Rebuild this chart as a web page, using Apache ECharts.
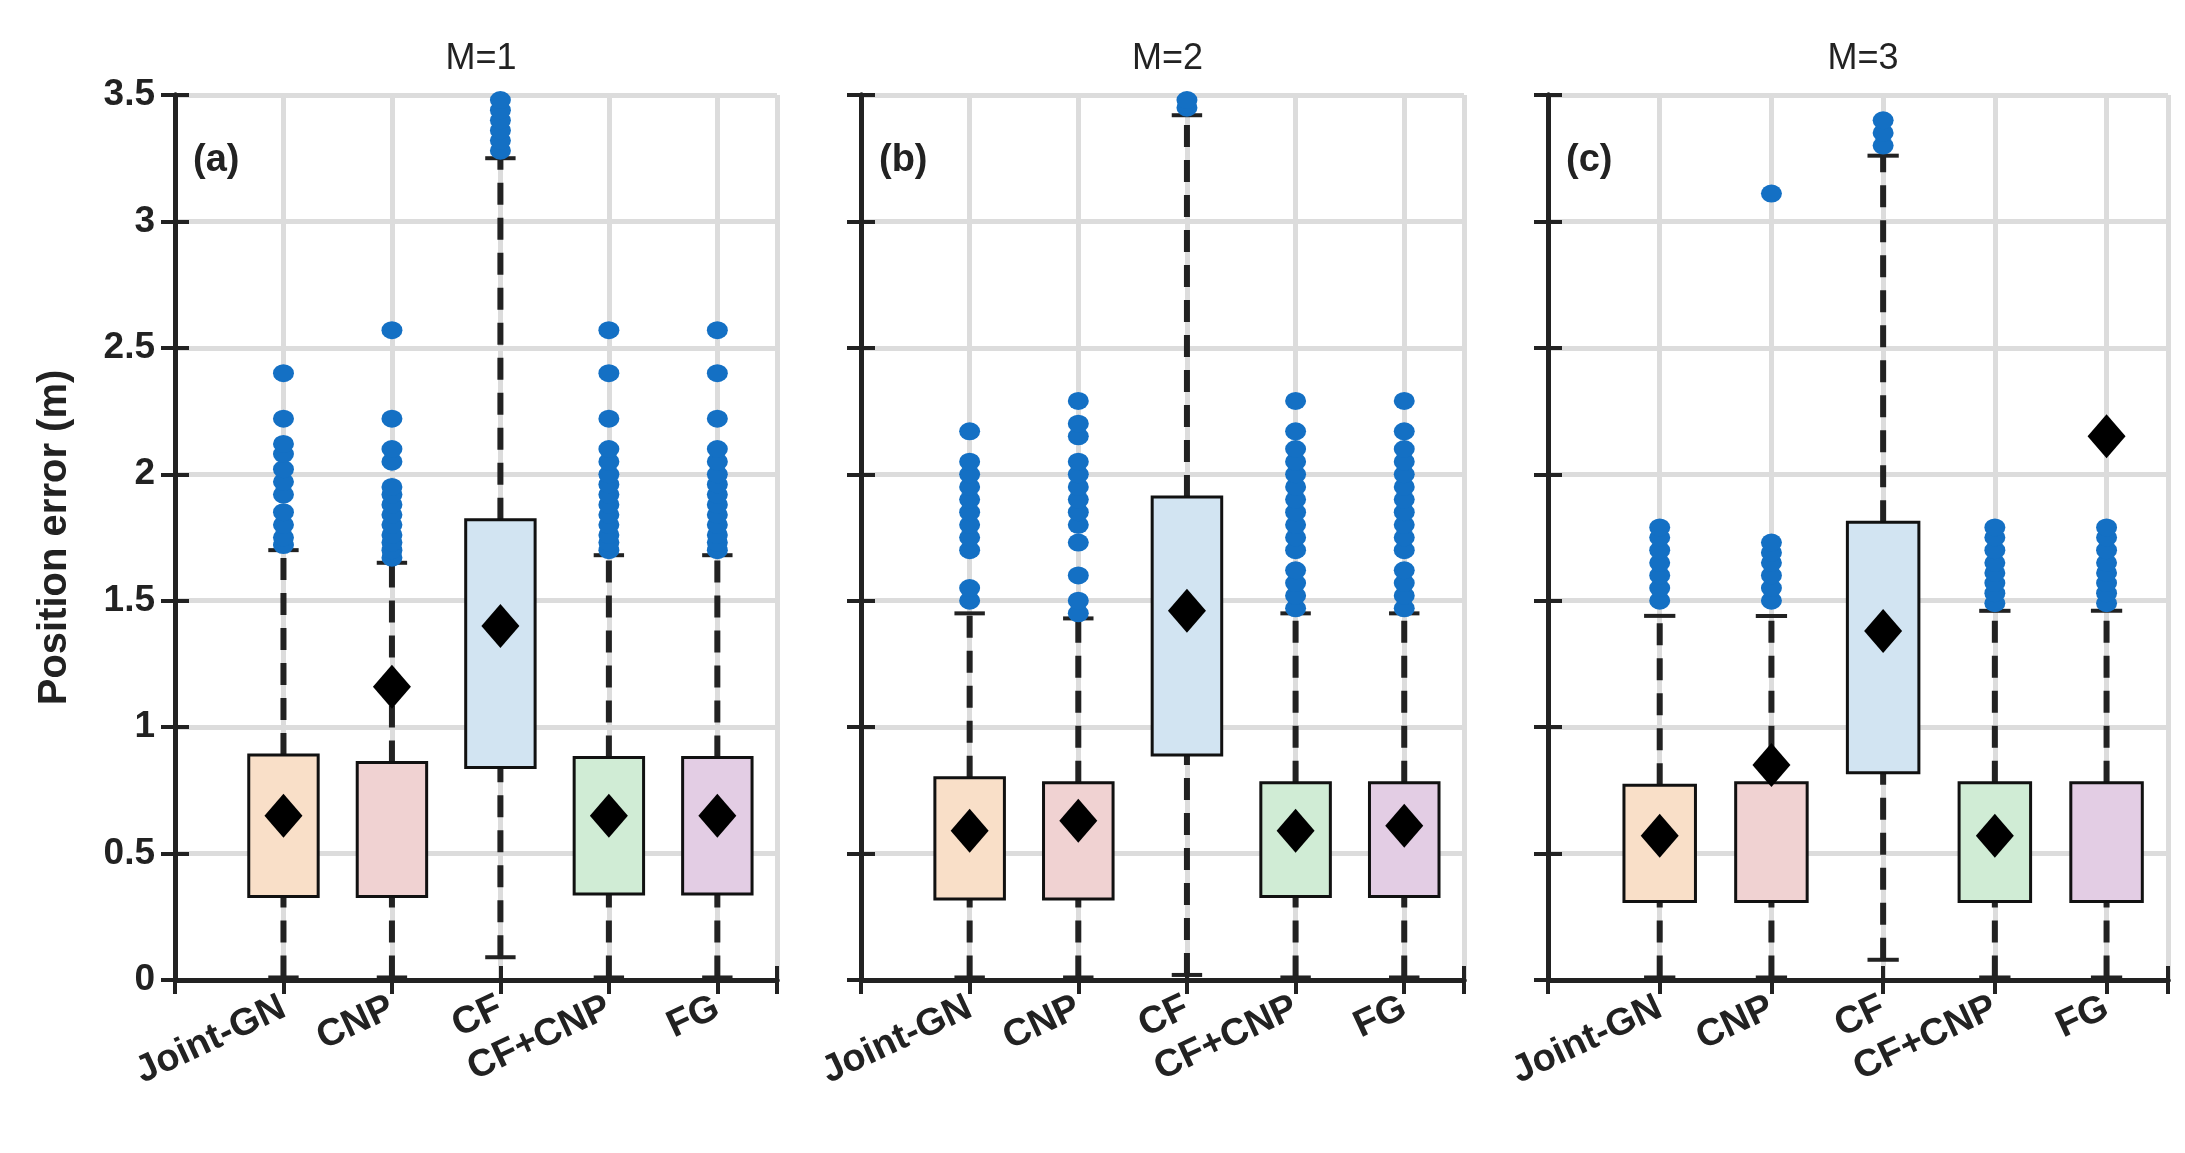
<!DOCTYPE html><html><head><meta charset="utf-8">
<script src="https://cdn.jsdelivr.net/npm/echarts@6/dist/echarts.min.js"></script>
<style>html,body{margin:0;background:#fff}#c{width:2185px;height:1153px}</style></head><body><div id="c"></div>
<script>
const categories=["Joint-GN","CNP","CF","CF+CNP","FG"];
const panelTitles=["M=1","M=2","M=3"];
const panelTags=["(a)","(b)","(c)"];
const yTicks=[0,0.5,1,1.5,2,2.5,3,3.5];
const boxColors=["#f9dfc8","#f0d2d2","#d2e4f2","#d0ecd5","#e3cde4"];
// [min, q1, q3, upperWhisker] per category
const statsA=[[0.01,0.33,0.89,1.70],[0.01,0.33,0.86,1.65],[0.09,0.84,1.82,3.25],[0.01,0.34,0.88,1.68],[0.01,0.34,0.88,1.68]];
const statsB=[[0.01,0.32,0.80,1.45],[0.01,0.32,0.78,1.43],[0.02,0.89,1.91,3.42],[0.01,0.33,0.78,1.45],[0.01,0.33,0.78,1.45]];
const statsC=[[0.01,0.31,0.77,1.44],[0.01,0.31,0.78,1.44],[0.08,0.82,1.81,3.26],[0.01,0.31,0.78,1.46],[0.01,0.31,0.78,1.46]];
const meansA=[0.65,1.16,1.40,0.65,0.65];
const meansB=[0.59,0.63,1.46,0.59,0.61];
const meansC=[0.57,0.85,1.38,0.57,2.15];
const outA=[[1.72,1.75,1.80,1.85,1.92,1.97,2.02,2.08,2.12,2.22,2.40],[1.67,1.70,1.73,1.76,1.80,1.84,1.88,1.92,1.95,2.05,2.10,2.22,2.57],[3.28,3.32,3.36,3.40,3.44,3.48],[1.70,1.73,1.76,1.80,1.84,1.88,1.92,1.96,2.00,2.05,2.10,2.22,2.40,2.57],[1.70,1.73,1.76,1.80,1.84,1.88,1.92,1.96,2.00,2.05,2.10,2.22,2.40,2.57]];
const outB=[[1.50,1.55,1.70,1.75,1.80,1.85,1.90,1.95,2.00,2.05,2.17],[1.45,1.50,1.60,1.73,1.80,1.85,1.90,1.95,2.00,2.05,2.15,2.20,2.29],[3.45,3.48],[1.47,1.52,1.57,1.62,1.70,1.75,1.80,1.85,1.90,1.95,2.00,2.05,2.10,2.17,2.29],[1.47,1.52,1.57,1.62,1.70,1.75,1.80,1.85,1.90,1.95,2.00,2.05,2.10,2.17,2.29]];
const outC=[[1.50,1.55,1.60,1.65,1.70,1.75,1.79],[1.50,1.55,1.60,1.65,1.69,1.73,3.11],[3.30,3.35,3.40],[1.49,1.53,1.57,1.61,1.65,1.70,1.75,1.79],[1.49,1.53,1.57,1.61,1.65,1.70,1.75,1.79]];
const allStats=[statsA,statsB,statsC],allMeans=[meansA,meansB,meansC],allOut=[outA,outB,outC];

const lefts=[175,861,1548],widths=[602,603,620],TOP=95,H=885;
const font='"Liberation Sans", Arial, sans-serif';
const grid=[],xAxis=[],yAxis=[],series=[],graphic=[],title=[];
for(let p=0;p<3;p++){
  const W=widths[p];
  grid.push({left:lefts[p],top:TOP,width:W,height:H});
  const base={type:'value',min:0,max:5.55,interval:1,gridIndex:p,
    axisLine:{show:true,lineStyle:{color:'#222',width:5}},
    axisTick:{show:true,inside:true,length:14,lineStyle:{color:'#222',width:4}}};
  xAxis.push(Object.assign({},base,{position:'bottom',
    splitLine:{show:true,lineStyle:{color:'#dcdcdc',width:5}},
    axisLabel:{show:true,rotate:25,interval:0,margin:26,color:'#222',fontFamily:font,fontWeight:'bold',fontSize:38,
      formatter:v=>(v>=1&&v<=5&&Number.isInteger(v))?categories[v-1]:'',showMinLabel:false}}));
  xAxis.push(Object.assign({},base,{position:'top',splitLine:{show:false},axisLabel:{show:false}}));
  const yb={type:'value',min:0,max:3.5,interval:0.5,gridIndex:p,
    axisLine:{show:true,lineStyle:{color:'#222',width:5}},
    axisTick:{show:true,inside:true,length:14,lineStyle:{color:'#222',width:4}}};
  yAxis.push(Object.assign({},yb,{position:'left',
    splitLine:{show:true,lineStyle:{color:'#dcdcdc',width:5}},
    axisLabel:{show:p===0,margin:20,color:'#222',fontFamily:font,fontWeight:'bold',fontSize:37,formatter:v=>String(v)},
    name:p===0?'Position error (m)':'',nameLocation:'middle',nameGap:100,
    nameTextStyle:{color:'#222',fontFamily:font,fontWeight:'bold',fontSize:40}}));
  yAxis.push(Object.assign({},yb,{position:'right',splitLine:{show:false},axisLabel:{show:false}}));
  title.push({text:panelTitles[p],left:lefts[p]+W/2,top:36,textAlign:'center',
    textStyle:{fontFamily:font,fontWeight:'normal',fontSize:36,color:'#222'}});
  graphic.push({type:'text',left:lefts[p]+18,top:TOP+47,style:{text:panelTags[p],font:'bold 38px '+font,fill:'#222'}});
  const xi=p*2,yi=p*2;
  const boxData=allStats[p].map((s,i)=>[i+1,s[0],s[1],s[2],s[3],i]);
  series.push({type:'custom',xAxisIndex:xi,yAxisIndex:yi,z:3,data:boxData,
    renderItem:(params,api)=>{
      const x=api.value(0);const c=api.coord([x,api.value(1)]);
      const pMin=api.coord([x,api.value(1)]),pQ1=api.coord([x,api.value(2)]),pQ3=api.coord([x,api.value(3)]),pMax=api.coord([x,api.value(4)]);
      const hw=api.size([0.32,0])[0],cw=api.size([0.14,0])[0];
      const wl={stroke:'#222',lineWidth:6,lineDash:[22,13]};
      return {type:'group',children:[
        {type:'line',shape:{x1:c[0],y1:pMin[1],x2:c[0],y2:pQ1[1]},style:wl},
        {type:'line',shape:{x1:c[0],y1:pQ3[1],x2:c[0],y2:pMax[1]},style:wl},
        {type:'line',shape:{x1:c[0]-cw,y1:pMin[1],x2:c[0]+cw,y2:pMin[1]},style:{stroke:'#222',lineWidth:4}},
        {type:'line',shape:{x1:c[0]-cw,y1:pMax[1],x2:c[0]+cw,y2:pMax[1]},style:{stroke:'#222',lineWidth:4}},
        {type:'rect',shape:{x:c[0]-hw,y:pQ3[1],width:2*hw,height:pQ1[1]-pQ3[1]},
          style:{fill:boxColors[api.value(5)],stroke:'#111',lineWidth:3}}
      ]};
    }});
  const outData=[];allOut[p].forEach((arr,i)=>arr.forEach(v=>outData.push([i+1,v])));
  series.push({type:'scatter',xAxisIndex:xi,yAxisIndex:yi,z:4,data:outData,symbol:'circle',symbolSize:[21,18],
    itemStyle:{color:'#1470c4',opacity:1}});
  series.push({type:'scatter',xAxisIndex:xi,yAxisIndex:yi,z:5,data:allMeans[p].map((v,i)=>[i+1,v]),
    symbol:'diamond',symbolSize:[38,44],itemStyle:{color:'#000',opacity:1}});
}
const chart=echarts.init(document.getElementById('c'));
chart.setOption({animation:false,backgroundColor:'#fff',title,grid,xAxis,yAxis,series,graphic});
</script></body></html>
